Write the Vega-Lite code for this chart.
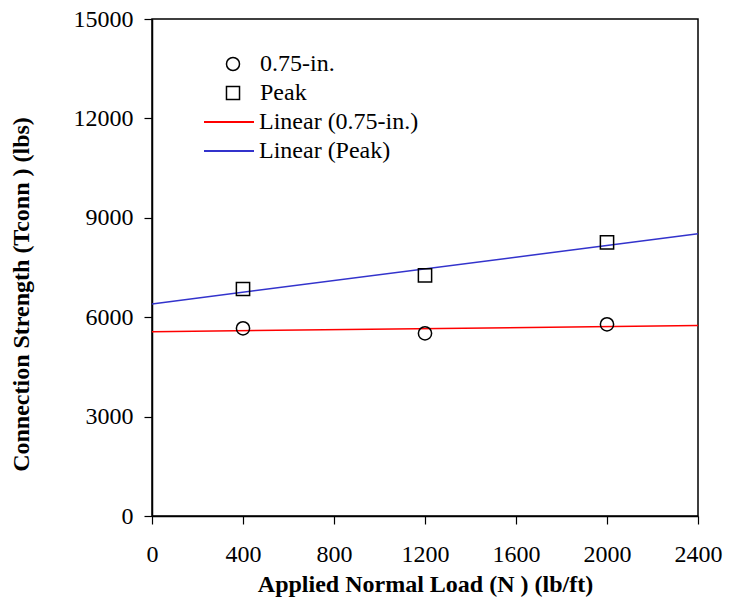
{
  "$schema": "https://vega.github.io/schema/vega-lite/v6.json",
  "width": 546,
  "height": 497,
  "autosize": "none",
  "padding": {"left": 152, "top": 19, "right": 38, "bottom": 89},
  "background": "white",
  "config": {
    "view": {"stroke": "black", "strokeWidth": 1.5},
    "font": "Liberation Serif",
    "axis": {
      "labelFont": "Liberation Serif",
      "labelFontSize": 24,
      "labelColor": "black",
      "labelFlush": false,
      "labelOverlap": false,
      "titleFont": "Liberation Serif",
      "titleFontSize": 24,
      "titleFontWeight": "bold",
      "titleColor": "black",
      "domainColor": "black",
      "domainWidth": 1.5,
      "tickColor": "black",
      "tickWidth": 1.2,
      "tickSize": 8,
      "grid": false
    },
    "legend": {
      "labelFont": "Liberation Serif",
      "labelFontSize": 24,
      "labelColor": "black",
      "padding": 0
    }
  },
  "data": {
    "values": [
      {"x": 400, "y": 5665, "series": "0.75-in.", "trend": "Linear (0.75-in.)"},
      {"x": 1200, "y": 5514, "series": "0.75-in.", "trend": "Linear (0.75-in.)"},
      {"x": 2000, "y": 5786, "series": "0.75-in.", "trend": "Linear (0.75-in.)"},
      {"x": 400, "y": 6851, "series": "Peak", "trend": "Linear (Peak)"},
      {"x": 1200, "y": 7265, "series": "Peak", "trend": "Linear (Peak)"},
      {"x": 2000, "y": 8261, "series": "Peak", "trend": "Linear (Peak)"}
    ]
  },
  "layer": [
    {
      "transform": [
        {"regression": "y", "on": "x", "groupby": ["trend"], "extent": [0, 2400]}
      ],
      "mark": {"type": "line", "strokeWidth": 1.5},
      "encoding": {
        "x": {"field": "x", "type": "quantitative"},
        "y": {"field": "y", "type": "quantitative"},
        "color": {
          "field": "trend",
          "type": "nominal",
          "scale": {"domain": ["Linear (0.75-in.)", "Linear (Peak)"], "range": ["#ff0000", "#3333cc"]},
          "legend": {
            "orient": "none",
            "legendX": 65,
            "legendY": 91,
            "title": null,
            "symbolType": "M-50,0H50",
            "symbolSize": 1,
            "symbolStrokeWidth": 2,
            "labelOffset": 18,
            "rowPadding": 5
          }
        }
      }
    },
    {
      "mark": {"type": "point", "filled": false, "stroke": "black", "strokeWidth": 1.5, "opacity": 1},
      "encoding": {
        "x": {
          "field": "x",
          "type": "quantitative",
          "scale": {"domain": [0, 2400], "nice": false},
          "axis": {"values": [0, 400, 800, 1200, 1600, 2000, 2400], "format": "d", "title": "Applied Normal Load (N ) (lb/ft)", "labelPadding": 18, "titlePadding": 6}
        },
        "y": {
          "field": "y",
          "type": "quantitative",
          "scale": {"domain": [0, 15000], "nice": false},
          "axis": {"values": [0, 3000, 6000, 9000, 12000, 15000], "format": "d", "title": "Connection Strength (Tconn ) (lbs)", "labelPadding": 11, "titlePadding": 40, "titleY": 275}
        },
        "shape": {
          "field": "series",
          "type": "nominal",
          "scale": {"domain": ["0.75-in.", "Peak"], "range": ["circle", "square"]},
          "legend": {
            "orient": "none",
            "legendX": 69,
            "legendY": 33,
            "title": null,
            "symbolStrokeColor": "black",
            "symbolFillColor": "transparent",
            "symbolStrokeWidth": 1.5,
            "symbolSize": 170,
            "labelOffset": 15,
            "rowPadding": 5
          }
        },
        "size": {"value": 175}
      }
    }
  ]
}
